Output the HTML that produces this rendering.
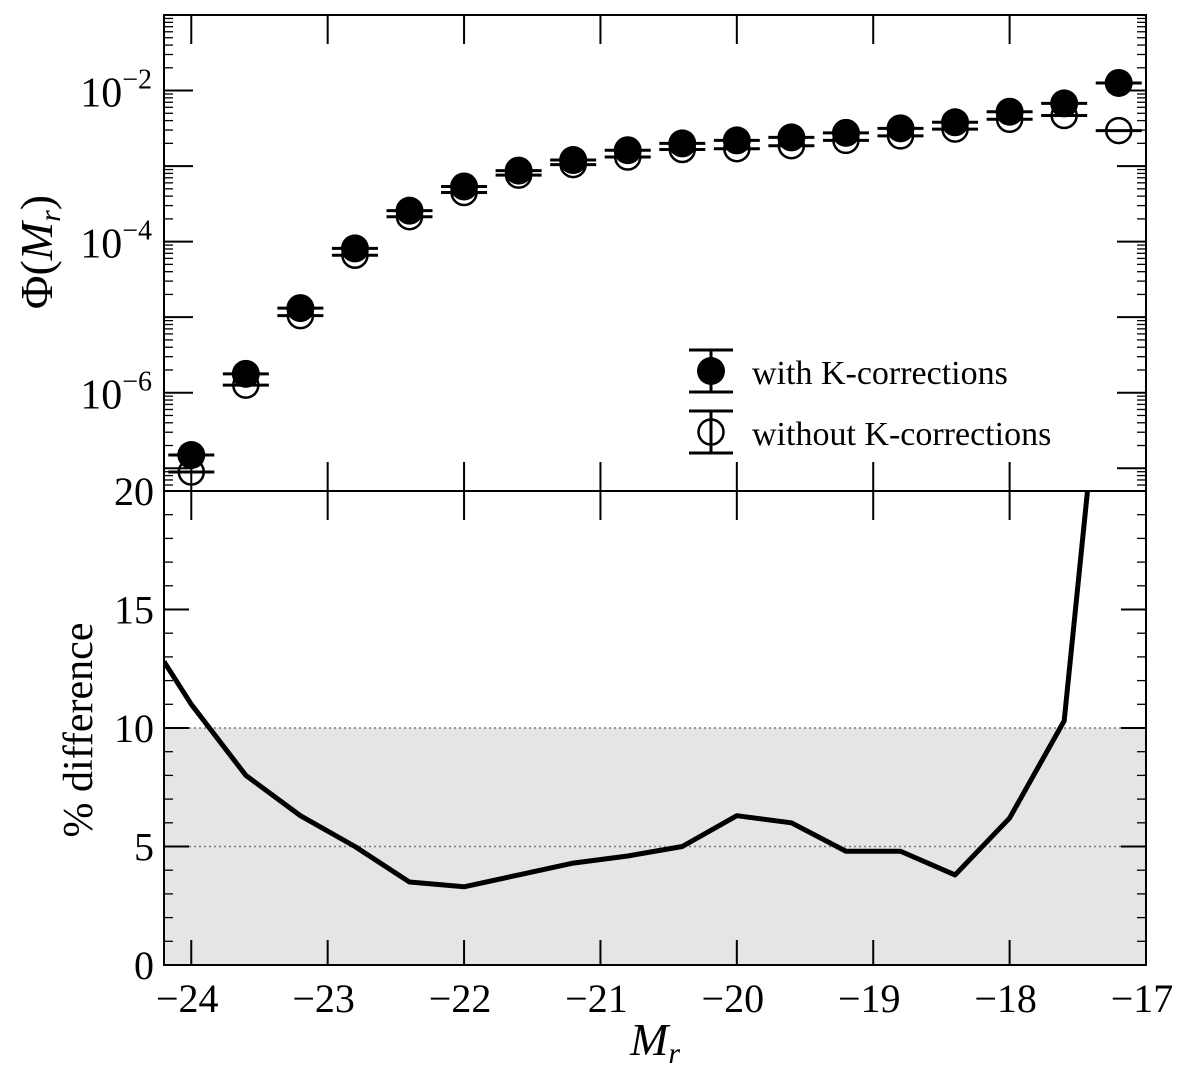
<!DOCTYPE html>
<html><head><meta charset="utf-8"><style>
body{margin:0;background:#fff}
svg text{font-family:"Liberation Serif",serif;fill:#000}
</style></head><body>
<svg id="c" width="1200" height="1070" viewBox="0 0 1200 1070"></svg>
<script>
const mags=[-24,-23.6,-23.2,-22.8,-22.4,-22,-21.6,-21.2,-20.8,-20.4,-20,-19.6,-19.2,-18.8,-18.4,-18,-17.6,-17.2];
const logPhiWith=[-6.825,-5.75,-4.88,-4.09,-3.59,-3.27,-3.06,-2.92,-2.79,-2.70,-2.66,-2.62,-2.56,-2.50,-2.42,-2.28,-2.17,-1.90];
const logPhiWithout=[-7.05,-5.90,-4.98,-4.18,-3.67,-3.35,-3.12,-2.98,-2.88,-2.78,-2.77,-2.73,-2.66,-2.60,-2.51,-2.38,-2.33,-2.53];
const diffMags=[-24.2,-24,-23.6,-23.2,-22.8,-22.4,-22,-21.6,-21.2,-20.8,-20.4,-20,-19.6,-19.2,-18.8,-18.4,-18,-17.6,-17.2];
const diffVals=[12.8,11.0,8.0,6.3,5.0,3.5,3.3,3.8,4.3,4.6,5.0,6.3,6.0,4.8,4.8,3.8,6.2,10.3,33];
const xTicks=[-24,-23,-22,-21,-20,-19,-18,-17];
const yTopTicks=[-6,-4,-2];
const yBotTicks=[0,5,10,15,20];

const NS="http://www.w3.org/2000/svg";
const svg=document.getElementById('c');
const L=164,R=1146,T=15,M=491,B=965;
const X=v=>L+(v+24.2)/7.2*(R-L);
const YT=lg=>T+(-1-lg)/(6.301)*(M-T);
const YB=v=>B-v/20*(B-M);
function el(tag,a,parent){const e=document.createElementNS(NS,tag);for(const k in a)e.setAttribute(k,a[k]);(parent||svg).appendChild(e);return e;}

let g=el('g',{});


let sh=el('rect',{x:L,y:YB(10),width:R-L,height:YB(0)-YB(10),fill:'#e5e5e5'},g);


[5,10].forEach(v=>{const l=el('line',{x1:L,x2:R,y1:YB(v),y2:YB(v),stroke:'#777','stroke-width':1.5,'stroke-dasharray':'2,3'},g);

});

let cp=el('clipPath',{id:'cb'});el('rect',{x:L,y:M,width:R-L,height:B-M},cp);
let pl=el('polyline',{points:diffMags.map((m,i)=>X(m)+','+YB(diffVals[i])).join(' '),fill:'none',stroke:'#000','stroke-width':5,'clip-path':'url(#cb)','stroke-linejoin':'round'},g);



[[T,M],[M,B]].forEach(([a,b])=>el('rect',{x:L,y:a,width:R-L,height:b-a,fill:'none',stroke:'#000','stroke-width':2}));

xTicks.forEach(v=>{const x=X(v);
 [[T,T+29],[M-29,M],[M,M+29],[B-25,B]].forEach(([a,b])=>el('line',{x1:x,x2:x,y1:a,y2:b,stroke:'#000','stroke-width':2}));
 const t=el('text',{x:x-4,y:B+47,'font-size':40,'text-anchor':'middle'});t.textContent='\u2212'+Math.abs(v);
 
 
});
for(let d=-8;d<=-1;d++){for(let k=1;k<10;k++){const lg=d+Math.log10(k);const y=YT(lg);if(y<T||y>M)continue;const len=k==1?29:9;
 el('line',{x1:L,x2:L+len,y1:y,y2:y,stroke:'#000','stroke-width':k==1?2:1.3});
 el('line',{x1:R-len,x2:R,y1:y,y2:y,stroke:'#000','stroke-width':k==1?2:1.3});}}
yTopTicks.forEach(v=>{const y=YT(v);const t=el('text',{x:152,y:y+16,'font-size':42,'text-anchor':'end'});
 t.innerHTML='10<tspan dy="-18" font-size="28">\u2212'+Math.abs(v)+'</tspan>';
 
 });
yBotTicks.forEach(v=>{const y=YB(v);
 el('line',{x1:L,x2:L+25,y1:y,y2:y,stroke:'#000','stroke-width':2});el('line',{x1:R-25,x2:R,y1:y,y2:y,stroke:'#000','stroke-width':2});
 const t=el('text',{x:154,y:y+14,'font-size':40,'text-anchor':'end'});t.textContent=v;
 
 });
for(let v=1;v<20;v++){if(v%5==0)continue;const y=YB(v);el('line',{x1:L,x2:L+9,y1:y,y2:y,stroke:'#000','stroke-width':1.3});el('line',{x1:R-9,x2:R,y1:y,y2:y,stroke:'#000','stroke-width':1.3});}

function pt(x,y,filled,name){
 el('line',{x1:x-23,x2:x+23,y1:y,y2:y,stroke:'#000','stroke-width':3});
 const c=el('circle',{cx:x,cy:y,r:filled?14:12.5,fill:filled?'#000':'none',stroke:'#000','stroke-width':filled?0:2.5});
 
 
}
mags.forEach((m,i)=>pt(X(m),YT(logPhiWithout[i]),false,'point-without-k'));
mags.forEach((m,i)=>pt(X(m),YT(logPhiWith[i]),true,'point-with-k'));

el('line',{x1:711,x2:711,y1:350,y2:392,stroke:'#000','stroke-width':3});
el('line',{x1:689,x2:733,y1:350,y2:350,stroke:'#000','stroke-width':3});el('line',{x1:689,x2:733,y1:392,y2:392,stroke:'#000','stroke-width':3});
el('circle',{cx:711,cy:371,r:14,fill:'#000'});
el('line',{x1:711,x2:711,y1:411,y2:453,stroke:'#000','stroke-width':3});
el('line',{x1:689,x2:733,y1:411,y2:411,stroke:'#000','stroke-width':3});el('line',{x1:689,x2:733,y1:453,y2:453,stroke:'#000','stroke-width':3});
el('circle',{cx:711,cy:432,r:12.5,fill:'none',stroke:'#000','stroke-width':2.5});
let t1=el('text',{x:752,y:384,'font-size':34});t1.textContent='with K-corrections';


let t2=el('text',{x:752,y:445,'font-size':34});t2.textContent='without K-corrections';



let xl=el('text',{x:655,y:1055,'font-size':46,'font-style':'italic','text-anchor':'middle'});xl.innerHTML='M<tspan dy="8" font-size="30">r</tspan>';


let yl=el('text',{x:0,y:0,'font-size':46,'text-anchor':'middle',transform:'translate(52,252) rotate(-90)'});yl.innerHTML='\u03A6(<tspan font-style="italic">M</tspan><tspan dy="8" font-size="30" font-style="italic">r</tspan><tspan dy="-8">)</tspan>';


let yl2=el('text',{x:0,y:0,'font-size':42,'text-anchor':'middle',transform:'translate(92,730) rotate(-90)'});yl2.textContent='% difference';


</script>
</body></html>
